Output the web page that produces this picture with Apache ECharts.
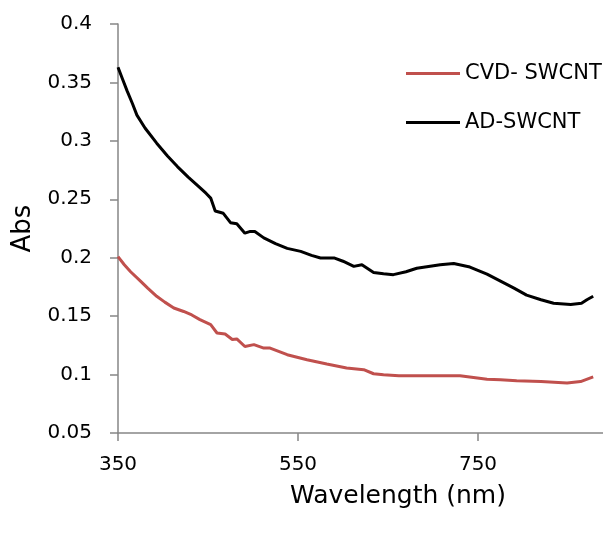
<!DOCTYPE html>
<html>
<head>
<meta charset="utf-8">
<script src="https://cdn.jsdelivr.net/npm/echarts@6/dist/echarts.min.js"></script>
<style>
  html, body { margin: 0; padding: 0; background: #fff; }
  #chart { width: 603px; height: 537px; }
</style>
</head>
<body>
<div id="chart"></div>
<script>
// AD-SWCNT (black): [wavelength nm, abs]
const adSwcnt = [
  [350, 0.363], [355, 0.353], [360, 0.343], [366, 0.332], [371, 0.322],
  [380, 0.311], [393, 0.298], [405, 0.287], [416, 0.278], [428, 0.269],
  [441, 0.26], [448, 0.255], [453, 0.251], [458, 0.24], [467, 0.238],
  [475, 0.23], [482, 0.229], [491, 0.221], [497, 0.2225], [502, 0.2225],
  [512, 0.217], [525, 0.212], [538, 0.208], [553, 0.2054], [565, 0.202],
  [575, 0.1998], [590, 0.1998], [600, 0.197], [612, 0.1926], [621, 0.194],
  [634, 0.1874], [645, 0.1862], [656, 0.1855], [670, 0.188], [682, 0.191],
  [695, 0.1925], [708, 0.194], [723, 0.195], [741, 0.192], [760, 0.186],
  [775, 0.18], [790, 0.174], [804, 0.168], [820, 0.164], [834, 0.161],
  [853, 0.16], [865, 0.161], [871, 0.164], [878, 0.167]
];

// CVD- SWCNT (red)
const cvdSwcnt = [
  [350, 0.201], [357, 0.194], [364, 0.188], [375, 0.18], [383, 0.174],
  [393, 0.167], [402, 0.162], [412, 0.157], [423, 0.154], [432, 0.151],
  [441, 0.147], [453, 0.1427], [460, 0.1356], [469, 0.1347], [477, 0.130],
  [482, 0.1305], [491, 0.124], [501, 0.1256], [512, 0.1227], [519, 0.1227],
  [538, 0.117], [560, 0.1127], [582, 0.109], [604, 0.1056], [623, 0.1042],
  [634, 0.1007], [645, 0.0998], [662, 0.099], [700, 0.099], [730, 0.099],
  [745, 0.0975], [760, 0.096], [775, 0.0955], [793, 0.0948], [820, 0.094],
  [849, 0.0928], [864, 0.094], [878, 0.098]
];

const seriesNames = ['CVD- SWCNT', 'AD-SWCNT'];
const seriesColors = ['#C0504D', '#000000'];

const font = 'DejaVu Sans';
const axisGray = '#868686';

const chart = echarts.init(document.getElementById('chart'));

chart.setOption({
  backgroundColor: '#fff',
  animation: false,
  grid: { left: 118, right: -55, top: 24, bottom: 104, outerBoundsMode: 'none', containLabel: false },
  legend: {
    orient: 'vertical',
    left: 401,
    top: 58,
    icon: 'rect',
    itemWidth: 54,
    itemHeight: 3,
    itemGap: 28,
    data: seriesNames,
    textStyle: { fontFamily: font, fontSize: 21, color: '#000' },
  },
  xAxis: {
    type: 'value',
    min: 350,
    max: 950,
    interval: 200,
    name: 'Wavelength (nm)',
    nameLocation: 'middle',
    nameGap: 51,
    nameTextStyle: { fontFamily: font, fontSize: 25, color: '#000', padding: [0, 0, 0, 20] },
    axisLine: { lineStyle: { color: axisGray, width: 1.5 } },
    axisTick: { show: true, length: 8, lineStyle: { color: axisGray, width: 1.5 } },
    axisLabel: { fontFamily: font, fontSize: 20, color: '#000', margin: 22, showMaxLabel: false },
    splitLine: { show: false },
  },
  yAxis: {
    type: 'value',
    min: 0.05,
    max: 0.4,
    interval: 0.05,
    name: 'Abs',
    nameLocation: 'middle',
    nameGap: 76,
    nameTextStyle: { fontFamily: font, fontSize: 26, color: '#000' },
    axisLine: { show: true, lineStyle: { color: axisGray, width: 1.5 } },
    axisTick: { show: true, length: 8, lineStyle: { color: axisGray, width: 1.5 } },
    axisLabel: {
      fontFamily: font, fontSize: 20, color: '#000', margin: 26,
      formatter: v => String(+v.toFixed(2)),
    },
    splitLine: { show: false },
  },
  series: [
    {
      name: seriesNames[0],
      type: 'line',
      data: cvdSwcnt,
      showSymbol: false,
      color: seriesColors[0],
      lineStyle: { width: 3, color: seriesColors[0] },
    },
    {
      name: seriesNames[1],
      type: 'line',
      data: adSwcnt,
      showSymbol: false,
      color: seriesColors[1],
      lineStyle: { width: 3, color: seriesColors[1] },
    },
  ],
});
</script>
</body>
</html>
